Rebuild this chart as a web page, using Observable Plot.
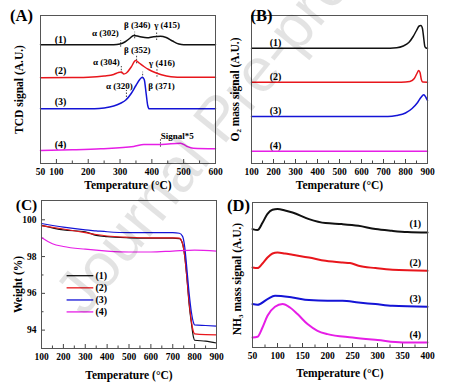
<!DOCTYPE html>
<html><head><meta charset="utf-8">
<script src="https://cdn.jsdelivr.net/npm/d3@7"></script>
<script src="https://cdn.jsdelivr.net/npm/@observablehq/plot@0.6"></script>
<style>
body{margin:0;background:#fff;}
#wrap{position:relative;width:454px;height:389px;overflow:hidden;background:#fff;}
.panel{position:absolute;}
#wm{position:absolute;left:40px;top:282px;font:62px "Liberation Sans",sans-serif;color:rgba(0,0,0,0.11);transform:rotate(-51deg);transform-origin:0 0;white-space:nowrap;pointer-events:none;}
</style></head><body><div id="wrap"><div id="wm">Journal Pre-proof</div></div>
<script>
// ---------- Panel A: TCD signal (H2-TPR), offset curves, arbitrary units ----------
const tprT1 = [50,280,300,315,330,343,360,385,405,427,445,465,485,500,600];
const tprS1 = [118.7,118.7,119.5,121.5,125,128,127,125.7,126.8,127.3,126,122.5,119.5,118.7,118.7];
const tprT2 = [50,150,200,250,280,295,304,312,320,335,349,360,375,390,410,430,460,500,600];
const tprS2 = [85.7,86,86.3,87.5,89,91,91.5,89.5,90.5,96.5,103,100.5,97,94,91,88.7,86.8,86.3,86.3];
const tprT3 = [50,220,250,280,300,320,335,350,362,370,376,382,387,392,600];
const tprS3 = [54.7,54.7,55.5,57.5,60,64,70,78,84,86.3,84,70,58,54.7,54.7];
const tprT4 = [50,150,240,343,375,430,490,511,530,600];
const tprS4 = [13,13.7,14.7,17,19,19,20.3,17,15.3,14.7];
const annText  = ["α (302)","β (346)","γ (415)","α (304)","β (352)","γ (416)","α (320)","β (371)","Signal*5"];
const annTextT = [254,354,448,257,354,432,298,430,480];
const annTextS = [130.3,138,138,101.3,113,100.7,77,77,27];
const annLineT = [302,346,415,304,352,416,320,371,427];
const annLineS1 = [116.3,124.7,123,89.7,99.7,86.3,63,84.7,16.3];
const annLineS2 = [123,131.3,131.3,97,108,94.7,73,91.3,24.7];
const labelsA = ["(1)","(2)","(3)","(4)"];
const labelsAT = [113,113,113,113];
const labelsAS = [124,92.3,61.3,19];
const ticksA = [50,100,200,300,400,500,600];
const minorA = [150,250,350,450,550];

// ---------- Panel B: O2 mass signal ----------
const o2T1 = [100,700,760,790,815,835,850,862,870,877,883,888,893,900];
const o2S1 = [115.3,115.3,115.8,117.5,121,127,133,137.5,138,135,125,117,115.5,115.3];
const o2T2 = [100,780,820,840,852,860,866,872,878,900];
const o2S2 = [81.3,81.3,82,85,90,93,91,84,81.5,81.3];
const o2T3 = [100,720,760,800,830,855,870,883,893,900];
const o2S3 = [47,47,48,50.5,55,61,66,68.7,66,63];
const o2T4 = [100,900];
const o2S4 = [12.3,12.3];
const labelsBT = [209,209,209,209];
const labelsBS = [120.3,87,53,18];
const ticksB = [100,200,300,400,500,600,700,800,900];
const minorB = [150,250,350,450,550,650,750,850];

// ---------- Panel C: TGA weight (%) ----------
const tgaT = [100,200,300,350,400,500,600,700,730,745,755,765,775,785,795,800,850,900];
const tgaW1 = [99.7,99.45,99.35,99.15,99.08,99.02,99.0,99.0,98.98,98.7,98.0,96.8,95.4,94.4,93.6,93.45,93.4,93.3];
const tgaW2 = [99.68,99.5,99.3,99.2,99.12,99.05,99.02,99.02,99.0,98.7,98.0,96.8,95.5,94.5,93.9,93.8,93.75,93.74];
const tgaW3 = [99.8,99.6,99.45,99.4,99.35,99.3,99.3,99.3,99.27,99.1,98.5,97.3,96.0,95.0,94.4,94.28,94.25,94.22];
const tgaT4 = [100,150,200,300,400,500,600,700,800,900];
const tgaW4 = [99.04,98.7,98.55,98.4,98.3,98.25,98.25,98.3,98.35,98.3];
const legendC = ["(1)","(2)","(3)","(4)"];
const legendCW = [96.96,96.3,95.64,94.99];
const ticksCy = [94,96,98,100];
const minorCy = [95,97,99];

// ---------- Panel D: NH3 mass signal ----------
const nhT1 = [50,60,70,80,90,100,115,130,163,196,229,262,296,329,360,400];
const nhS1 = [118.4,117.4,124.7,133.7,137.7,138.4,137,135,128.4,124.4,123.4,121.7,118.4,116.7,115.5,115];
const nhT2 = [50,60,70,80,90,100,115,130,163,196,230,245,262,296,330,400];
const nhS2 = [80,79.4,84,90,94,95,94,92.7,90,86.7,85,84.5,81.7,79.4,77.7,76.7];
const nhT3 = [50,60,80,95,130,163,200,230,262,296,330,400];
const nhS3 = [43.4,42.7,48.4,51.7,50,47.4,46.7,46.7,45,43.4,41.7,40.7];
const nhT4 = [50,60,70,80,95,110,125,140,160,180,200,250,300,350,400];
const nhS4 = [10,10.7,20,31.7,40.7,43.4,40,33.4,23.4,16.7,13.4,10,7.4,5,5];
const labelsDT = [375.5,375.5,375.5,375.5];
const labelsDS = [123.4,84.4,48.4,12.7];
const ticksD = [50,100,150,200,250,300,350,400];
const minorD = [75,125,175,225,275,325,375];

const colors = ["#111111","#e8161c","#1414d6","#e61ee6"];
const FONT = "'Liberation Serif','Times New Roman',serif";

function rows(xs, ys, k){ return xs.map((x,i)=>({x, y: ys[i], k})); }

function panel({left, top, width, height, ml, mr, mt, mb, xDomain, yDomain, xTicks, xMinor, series, sw, extra, title, ytitle, ydx, ydy, xtdy, pl}) {
  const ph = height - mt - mb;
  const data = series.flat();
  const p = Plot.plot({
    width, height, marginLeft: ml, marginRight: mr, marginTop: mt, marginBottom: mb,
    style: {fontFamily: FONT, fontWeight: "bold", fontSize: "9.5px", background: "transparent", overflow: "visible", color: "#000"},
    x: {domain: xDomain},
    y: {domain: yDomain},
    marks: [
      Plot.axisX({ticks: xTicks, tickSize: 0, tickPadding: 5, label: null, tickFormat: d => String(d)}),
      Plot.axisY({ticks: [], label: null}),
      Plot.tickX(xTicks, {x: d => d, insetTop: ph - 4, stroke: "#444"}),
      Plot.tickX(xMinor, {x: d => d, insetTop: ph - 2.5, stroke: "#444"}),
      ...(extra || []),
      Plot.line(data, {x: "x", y: "y", z: "k", stroke: d => colors[d.k], strokeWidth: sw, curve: "monotone-x"}),
      Plot.frame({stroke: "#555", strokeWidth: 1}),
      Plot.text([title], {frameAnchor: "bottom", dy: xtdy, fontSize: 11.5, textAnchor: "middle", lineAnchor: "middle"}),
      Plot.text([ytitle], {frameAnchor: "left", dx: ydx, dy: ydy, rotate: -90, fontSize: 11.5, textAnchor: "middle", lineAnchor: "middle"}),
      Plot.text([pl[0]], {frameAnchor: "top-left", dx: pl[1], dy: pl[2], fontSize: pl[3], textAnchor: "middle", lineAnchor: "middle"})
    ]
  });
  const d = document.createElement("div");
  d.className = "panel";
  d.style.left = left + "px"; d.style.top = top + "px";
  d.appendChild(p);
  document.getElementById("wrap").insertBefore(d, document.getElementById("wm"));
}

// Panel A
panel({
  left: 0, top: 0, width: 227, height: 195, ml: 40, mr: 12, mt: 15, mb: 32,
  xDomain: [50, 600], yDomain: [0, 148], xTicks: ticksA, xMinor: minorA,
  series: [rows(tprT1,tprS1,0), rows(tprT2,tprS2,1), rows(tprT3,tprS3,2), rows(tprT4,tprS4,3)], sw: 1.5,
  extra: [
    Plot.ruleX(annLineT.map((t,i)=>({t, a: annLineS1[i], b: annLineS2[i]})), {x: "t", y1: "a", y2: "b", stroke: "#444", strokeWidth: 1, strokeDasharray: "1.5,1.5"}),
    Plot.text(annText.map((s,i)=>({s, t: annTextT[i], v: annTextS[i]})), {x: "t", y: "v", text: "s", fontSize: 9, lineAnchor: "middle"}),
    Plot.text(labelsA.map((s,i)=>({s, t: labelsAT[i], v: labelsAS[i]})), {x: "t", y: "v", text: "s", fontSize: 10, lineAnchor: "middle"})
  ],
  title: "Temperature (°C)", ytitle: "TCD signal (A.U.)", ydx: -21, ydy: 0, xtdy: 22, pl: ["(A)", -19, 0, 16.5]
});

// Panel B
panel({
  left: 227, top: 0, width: 227, height: 195, ml: 24, mr: 27, mt: 15, mb: 32,
  xDomain: [100, 900], yDomain: [0, 148], xTicks: ticksB, xMinor: minorB,
  series: [rows(o2T1,o2S1,0), rows(o2T2,o2S2,1), rows(o2T3,o2S3,2), rows(o2T4,o2S4,3)], sw: 1.5,
  extra: [
    Plot.text(labelsA.map((s,i)=>({s, t: labelsBT[i], v: labelsBS[i]})), {x: "t", y: "v", text: "s", fontSize: 10, lineAnchor: "middle"})
  ],
  title: "Temperature (°C)", ytitle: "O₂ mass signal (A.U.)", ydx: -16, ydy: 0, xtdy: 22, pl: ["(B)", 10, 0, 16.5]
});

// Panel C
panel({
  left: 0, top: 195, width: 227, height: 194, ml: 41, mr: 11, mt: 5, mb: 41,
  xDomain: [100, 900], yDomain: [93, 101.05], xTicks: ticksB, xMinor: minorB,
  series: [rows(tgaT,tgaW1,0), rows(tgaT,tgaW2,1), rows(tgaT,tgaW3,2), rows(tgaT4,tgaW4,3)], sw: 1.2,
  extra: [
    Plot.axisY({ticks: ticksCy, tickSize: 0, tickPadding: 5, label: null}),
    Plot.tickY(ticksCy, {y: d => d, insetRight: 175 - 4, stroke: "#444"}),
    Plot.tickY(minorCy, {y: d => d, insetRight: 175 - 2.5, stroke: "#444"}),
    Plot.ruleY(legendC.map((s,i)=>({s, w: legendCW[i], k: i})), {y: "w", x1: 217, x2: 339, stroke: d => colors[d.k], strokeWidth: 1.3}),
    Plot.text(legendC.map((s,i)=>({s, w: legendCW[i]})), {x: 347, y: "w", text: "s", textAnchor: "start", fontSize: 10, lineAnchor: "middle"})
  ],
  title: "Temperature (°C)", ytitle: "Weight (%)", ydx: -23, ydy: 10, xtdy: 27, pl: ["(C)", -15, 5, 15.5]
});

// Panel D
panel({
  left: 227, top: 195, width: 227, height: 194, ml: 25, mr: 27, mt: 7, mb: 42,
  xDomain: [50, 400], yDomain: [0, 145], xTicks: ticksD, xMinor: minorD,
  series: [rows(nhT1,nhS1,0), rows(nhT2,nhS2,1), rows(nhT3,nhS3,2), rows(nhT4,nhS4,3)], sw: 2,
  extra: [
    Plot.text(labelsA.map((s,i)=>({s, t: labelsDT[i], v: labelsDS[i]})), {x: "t", y: "v", text: "s", fontSize: 10, lineAnchor: "middle"})
  ],
  title: "Temperature (°C)", ytitle: "NH₃ mass signal (A.U.)", ydx: -15, ydy: 4, xtdy: 26, pl: ["(D)", -14, 3, 16.5]
});
</script></body></html>
